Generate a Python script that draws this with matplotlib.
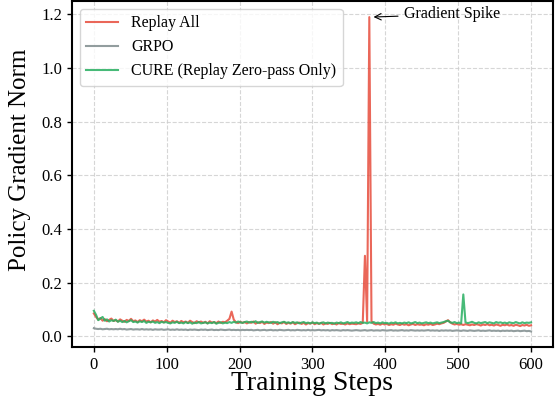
import numpy as np
import matplotlib
matplotlib.use("Agg")
import matplotlib.pyplot as plt

plt.rcParams['font.family'] = ['Liberation Serif', 'DejaVu Serif']

steps = list(range(0, 601, 3))

replay_all = [
    0.085, 0.072, 0.062, 0.068, 0.058, 0.064, 0.056, 0.061, 0.066, 0.057,
    0.060, 0.055, 0.063, 0.058, 0.054, 0.061, 0.057, 0.065, 0.056, 0.059,
    0.053, 0.060, 0.056, 0.062, 0.055, 0.058, 0.052, 0.059, 0.055, 0.061,
    0.054, 0.057, 0.052, 0.060, 0.055, 0.051, 0.058, 0.053, 0.056, 0.050,
    0.057, 0.052, 0.055, 0.050, 0.058, 0.053, 0.049, 0.056, 0.052, 0.055,
    0.050, 0.054, 0.048, 0.056, 0.051, 0.053, 0.049, 0.055, 0.050, 0.054,
    0.052, 0.058, 0.065, 0.092, 0.062, 0.052, 0.049, 0.054, 0.050, 0.053,
    0.048, 0.053, 0.050, 0.055, 0.047, 0.052, 0.049, 0.054, 0.046, 0.051,
    0.049, 0.053, 0.047, 0.052, 0.045, 0.050, 0.048, 0.053, 0.046, 0.050,
    0.047, 0.052, 0.045, 0.049, 0.051, 0.046, 0.050, 0.044, 0.049, 0.047,
    0.051, 0.045, 0.049, 0.046, 0.050, 0.044, 0.048, 0.046, 0.050, 0.045,
    0.048, 0.044, 0.049, 0.046, 0.047, 0.044, 0.048, 0.045, 0.047, 0.046,
    0.045, 0.048, 0.046, 0.050, 0.300, 0.055, 1.190, 0.056, 0.047, 0.044,
    0.046, 0.043, 0.047, 0.044, 0.046, 0.042, 0.045, 0.043, 0.047, 0.044,
    0.042, 0.046, 0.043, 0.045, 0.041, 0.044, 0.046, 0.042, 0.045, 0.043,
    0.044, 0.041, 0.045, 0.043, 0.046, 0.042, 0.044, 0.047, 0.045, 0.048,
    0.050, 0.055, 0.060, 0.052, 0.047, 0.044, 0.046, 0.043, 0.045, 0.042,
    0.045, 0.043, 0.041, 0.044, 0.042, 0.045, 0.043, 0.040, 0.044, 0.042,
    0.045, 0.041, 0.043, 0.040, 0.044, 0.042, 0.039, 0.043, 0.041, 0.044,
    0.040, 0.042, 0.039, 0.043, 0.041, 0.038, 0.042, 0.040, 0.043, 0.039,
    0.041,
]

grpo = [
    0.030, 0.028, 0.027, 0.028, 0.026, 0.027, 0.028, 0.026, 0.027, 0.026,
    0.027, 0.026, 0.028, 0.026, 0.027, 0.025, 0.026, 0.027, 0.025, 0.026,
    0.026, 0.025, 0.027, 0.025, 0.026, 0.025, 0.026, 0.024, 0.026, 0.025,
    0.025, 0.026, 0.024, 0.025, 0.026, 0.024, 0.025, 0.024, 0.026, 0.024,
    0.025, 0.024, 0.025, 0.023, 0.025, 0.024, 0.025, 0.024, 0.023, 0.025,
    0.024, 0.025, 0.023, 0.024, 0.025, 0.023, 0.024, 0.023, 0.025, 0.024,
    0.023, 0.024, 0.025, 0.023, 0.024, 0.023, 0.024, 0.022, 0.024, 0.023,
    0.024, 0.023, 0.024, 0.022, 0.023, 0.024, 0.022, 0.023, 0.024, 0.022,
    0.023, 0.024, 0.022, 0.023, 0.022, 0.024, 0.023, 0.022, 0.023, 0.024,
    0.022, 0.023, 0.022, 0.024, 0.023, 0.022, 0.023, 0.022, 0.024, 0.022,
    0.023, 0.022, 0.023, 0.024, 0.022, 0.023, 0.022, 0.023, 0.021, 0.023,
    0.022, 0.023, 0.022, 0.021, 0.023, 0.022, 0.023, 0.022, 0.021, 0.022,
    0.023, 0.022, 0.021, 0.022, 0.023, 0.021, 0.022, 0.023, 0.021, 0.022,
    0.022, 0.021, 0.023, 0.022, 0.021, 0.022, 0.023, 0.021, 0.022, 0.021,
    0.022, 0.023, 0.021, 0.022, 0.021, 0.023, 0.022, 0.021, 0.022, 0.021,
    0.022, 0.021, 0.022, 0.023, 0.021, 0.022, 0.021, 0.022, 0.020, 0.022,
    0.021, 0.022, 0.021, 0.022, 0.020, 0.021, 0.022, 0.021, 0.020, 0.022,
    0.021, 0.020, 0.022, 0.021, 0.020, 0.021, 0.022, 0.020, 0.021, 0.020,
    0.021, 0.022, 0.020, 0.021, 0.020, 0.021, 0.019, 0.021, 0.020, 0.021,
    0.020, 0.021, 0.019, 0.020, 0.021, 0.019, 0.020, 0.021, 0.019, 0.020,
    0.018,
]

cure = [
    0.095, 0.080, 0.060, 0.066, 0.072, 0.058, 0.063, 0.055, 0.060, 0.057,
    0.062, 0.054, 0.058, 0.053, 0.057, 0.052, 0.056, 0.060, 0.053, 0.055,
    0.051, 0.056, 0.053, 0.057, 0.050, 0.054, 0.052, 0.055, 0.050, 0.053,
    0.049, 0.054, 0.051, 0.053, 0.050, 0.048, 0.052, 0.050, 0.054, 0.049,
    0.051, 0.048, 0.053, 0.049, 0.052, 0.047, 0.051, 0.049, 0.053, 0.048,
    0.050, 0.052, 0.048, 0.051, 0.049, 0.053, 0.047, 0.050, 0.052, 0.048,
    0.051, 0.049, 0.053, 0.050, 0.054, 0.051, 0.055, 0.052, 0.050, 0.053,
    0.055, 0.051, 0.054, 0.052, 0.056, 0.050, 0.053, 0.055, 0.051, 0.054,
    0.052, 0.050, 0.054, 0.051, 0.053, 0.049, 0.052, 0.054, 0.050, 0.052,
    0.049, 0.053, 0.050, 0.052, 0.048, 0.051, 0.053, 0.049, 0.051, 0.048,
    0.052, 0.049, 0.051, 0.047, 0.050, 0.052, 0.048, 0.051, 0.049, 0.050,
    0.047, 0.051, 0.049, 0.052, 0.048, 0.050, 0.053, 0.049, 0.051, 0.050,
    0.052, 0.049, 0.053, 0.050, 0.051, 0.048, 0.052, 0.050, 0.053, 0.049,
    0.051, 0.048, 0.052, 0.049, 0.050, 0.047, 0.051, 0.049, 0.052, 0.048,
    0.050, 0.048, 0.051, 0.049, 0.052, 0.048, 0.050, 0.053, 0.049, 0.051,
    0.048, 0.050, 0.052, 0.049, 0.051, 0.048, 0.050, 0.052, 0.049, 0.051,
    0.053, 0.056, 0.058, 0.052, 0.050, 0.053, 0.049, 0.051, 0.048, 0.156,
    0.052, 0.049, 0.051, 0.054, 0.050, 0.048, 0.052, 0.049, 0.051, 0.053,
    0.049, 0.052, 0.050, 0.048, 0.053, 0.050, 0.052, 0.049, 0.051, 0.048,
    0.052, 0.050, 0.049, 0.053, 0.050, 0.048, 0.052, 0.049, 0.051, 0.050,
    0.052,
]

labels = ["Replay All", "GRPO", "CURE (Replay Zero-pass Only)"]
colors = ["#E74C3C", "#7F8C8D", "#27AE60"]

fig = plt.figure(figsize=(5.56, 4.0), dpi=100)
ax = fig.add_axes([0.1295, 0.1325, 0.865, 0.865])

ax.plot(steps, replay_all, color=colors[0], lw=1.5, alpha=0.85, label=labels[0])
ax.plot(steps, grpo, color=colors[1], lw=1.5, alpha=0.85, label=labels[1])
ax.plot(steps, cure, color=colors[2], lw=1.5, alpha=0.85, label=labels[2])

ax.set_xlim(-30, 630)
ax.set_ylim(-0.04, 1.25)
ax.set_xticks([0, 100, 200, 300, 400, 500, 600])
ax.set_yticks([0.0, 0.2, 0.4, 0.6, 0.8, 1.0, 1.2])
ax.grid(True, linestyle='--', color='#cccccc', alpha=0.8, lw=0.8)
ax.tick_params(labelsize=12, direction='out', length=3.5, width=1.0)
for s in ax.spines.values():
    s.set_linewidth(1.5)
    s.set_color('black')

ax.set_xlabel("Training Steps", fontsize=20, labelpad=-1)
ax.set_ylabel("Policy Gradient Norm", fontsize=18)
ax.yaxis.set_label_coords(-0.085, 0.54)

peak_i = int(np.argmax(replay_all))
ax.annotate("Gradient Spike", xy=(steps[peak_i] + 2, replay_all[peak_i]),
            xytext=(425, 1.2), fontsize=11.5, va='center', ha='left',
            arrowprops=dict(arrowstyle='->', color='black', lw=0.8))

ax.legend(loc='upper left', fontsize=11.5, frameon=True, framealpha=0.8,
          edgecolor='#cccccc', fancybox=True)

fig.savefig("out.png", dpi=100)
